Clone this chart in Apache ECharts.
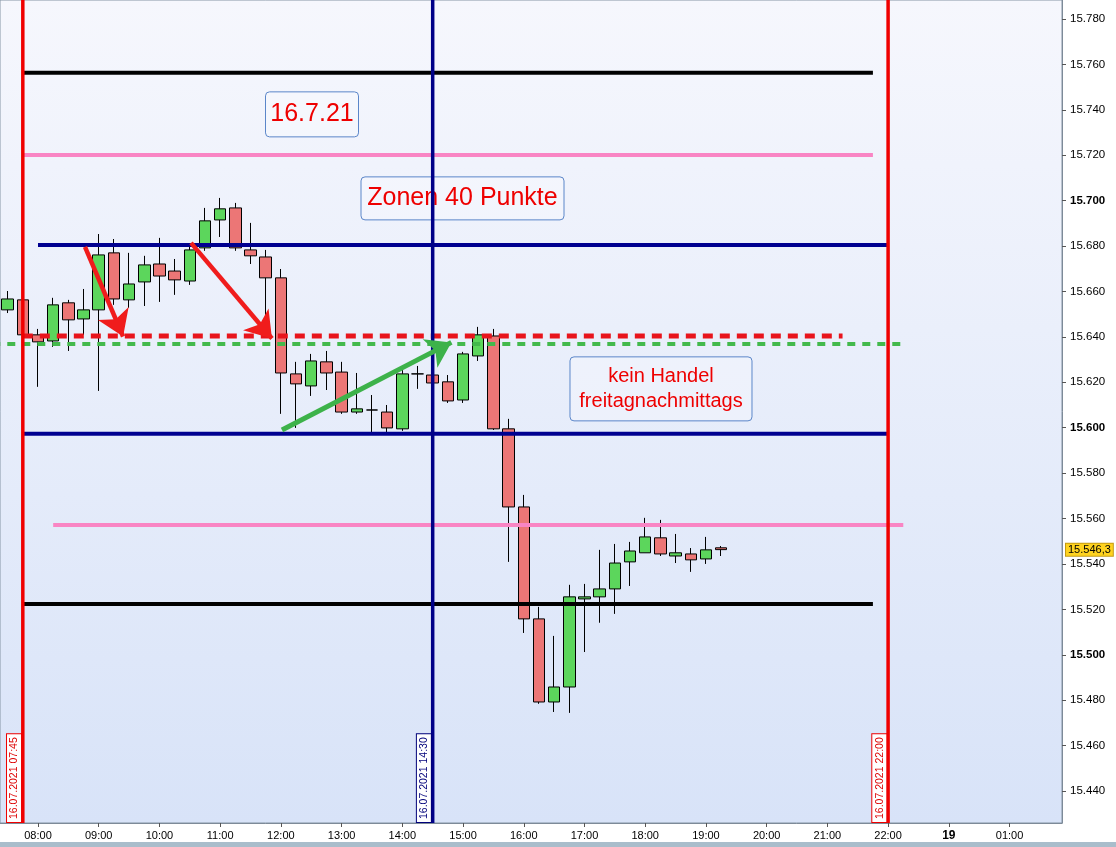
<!DOCTYPE html>
<html>
<head>
<meta charset="utf-8">
<script src="https://cdn.jsdelivr.net/npm/echarts@6/dist/echarts.min.js"></script>
<style>html,body{margin:0;padding:0;background:#fff}#c{width:1116px;height:847px}</style>
</head>
<body>
<div id="c"></div>
<script>
// ---------- data ----------
const candleTimes = ['07:30','07:45','08:00','08:15','08:30','08:45','09:00','09:15','09:30','09:45',
  '10:00','10:15','10:30','10:45','11:00','11:15','11:30','11:45','12:00','12:15','12:30','12:45',
  '13:00','13:15','13:30','13:45','14:00','14:15','14:30','14:45','15:00','15:15','15:30','15:45',
  '16:00','16:15','16:30','16:45','17:00','17:15','17:30','17:45','18:00','18:15','18:30','18:45',
  '19:00','19:15'];
const opens = [15651.9,15656.3,15640.9,15638.2,15655.0,15647.9,15651.9,15677.0,15656.3,15664.2,
  15672.1,15669.0,15664.6,15679.2,15691.5,15696.8,15678.3,15675.2,15666.0,15623.7,15618.4,15629.0,
  15624.5,15606.9,15607.8,15606.9,15599.5,15623.7,15623.2,15620.2,15612.2,15631.6,15640.4,15599.5,
  15565.1,15515.8,15479.2,15485.8,15524.6,15525.5,15529.0,15540.9,15544.9,15551.5,15543.5,15544.4,
  15542.2,15547.1];
const closes = [15656.7,15640.9,15637.8,15654.1,15647.5,15651.9,15676.1,15656.7,15663.3,15671.7,
  15666.8,15665.1,15678.3,15691.1,15696.4,15679.2,15675.7,15666.0,15624.1,15619.3,15629.4,15624.1,
  15606.9,15608.3,15607.8,15599.9,15623.7,15623.7,15619.7,15611.8,15632.5,15640.9,15599.5,15565.1,
  15515.8,15479.2,15485.8,15525.5,15525.5,15529.0,15540.4,15545.7,15551.9,15544.4,15544.9,15541.8,
  15546.2,15546.3];
const lows = [15650.5,15640.5,15618.0,15635.6,15633.8,15640.9,15616.2,15654.1,15652.8,15653.6,
  15655.4,15658.5,15662.9,15677.9,15684.0,15677.9,15672.1,15645.3,15606.1,15599.9,15614.0,15616.6,
  15606.1,15606.1,15598.1,15598.1,15598.6,15617.1,15619.7,15610.9,15610.9,15629.4,15599.0,15540.9,
  15509.6,15478.4,15474.8,15474.4,15501.2,15514.1,15518.0,15530.3,15544.9,15543.5,15540.4,15536.5,
  15540.0,15543.5];
const highs = [15660.2,15656.5,15643.5,15657.2,15656.3,15661.1,15685.3,15683.1,15677.0,15675.7,
  15683.6,15674.3,15680.5,15696.8,15701.2,15699.0,15690.2,15678.3,15669.9,15629.0,15632.5,15633.8,
  15629.0,15624.1,15614.4,15610.0,15625.4,15627.2,15623.2,15623.2,15633.4,15644.4,15643.5,15603.9,
  15570.4,15521.1,15508.3,15530.8,15531.2,15546.2,15548.8,15549.7,15560.3,15559.4,15553.2,15547.0,
  15551.9,15547.9];
const lastPrice = 15546.3;

const yTicks = [15440,15460,15480,15500,15520,15540,15560,15580,15600,15620,15640,15660,15680,15700,15720,15740,15760,15780];
const boldYTicks = [15500,15600,15700];
const xTickHours = [8,9,10,11,12,13,14,15,16,17,18,19,20,21,22,23,24];
const xTickLabels = ['08:00','09:00','10:00','11:00','12:00','13:00','14:00','15:00','16:00','17:00','18:00','19:00','20:00','21:00','22:00','19','01:00'];
const boldXTicks = ['19'];

// solid horizontal levels
const levelPrices = [15756.3, 15720.1, 15680.5, 15597.3, 15557.2, 15522.4];
const levelFrom   = ['07:45','07:45','08:00','07:45','08:15','07:45'];
const levelTo     = ['21:45','21:45','22:00','22:00','22:15','21:45'];
const levelKinds  = ['black','pink','blue','blue','pink','black'];
// dashed levels
const dashPrices = [15640.4, 15636.9];
const dashFrom   = ['07:45','07:00'];
const dashTo     = ['21:15','22:15'];
const dashKinds  = ['red','green'];
// vertical time markers
const markerTimes  = ['07:45','14:30','22:00'];
const markerLabels = ['16.07.2021 07:45','16.07.2021 14:30','16.07.2021 22:00'];
const markerKinds  = ['red','navy','red'];
// arrows (hours, points); "to" is the arrow tip
const arrowFromH = [8.774, 10.520, 12.018];
const arrowFromP = [15679.6, 15681.4, 15599.0];
const arrowToH   = [9.482, 11.986, 14.983];
const arrowToP   = [15635.1, 15635.1, 15640.0];
const arrowKinds = ['red','red','green'];
// text notes (centre in hours / points)
const noteTexts = ['16.7.21', 'Zonen 40 Punkte', 'kein Handel\nfreitagnachmittags'];
const noteH = [12.5125, 14.991, 18.26];
const noteP = [15738.0, 15701.0, 15617.1];

// ---------- styles ----------
const FONT = 'Arial, "Liberation Sans", sans-serif';
const COL = {black:'#000000', pink:'#f985c4', blue:'#000090', navy:'#000088', red:'#ee0a0a', green:'#3fb84a'};
const levelWidth = {black:4, pink:4, blue:4};
const noteSize = [[93,45,25],[203,43,25],[182,64,20]];

const toH = s => { const [h,m] = s.split(':').map(Number); return h + m/60; };
const fmtPts = v => { const s = Math.round(v).toString(); return s.slice(0, s.length-3) + '.' + s.slice(-3); };

const xMin = 7.3742, xMax = 24.864;
const yMin = 15425.9, yMax = 15788.37;

const candleData = candleTimes.map((t,i) => [toH(t), opens[i], closes[i], lows[i], highs[i]]);

const series = [];
series.push({
  type:'candlestick', name:'FDAX', data:candleData, barWidth:12, z:2,
  itemStyle:{color:'#5cd65c', color0:'#ec7676', borderColor:'#000', borderColor0:'#000', borderColorDoji:'#000', borderWidth:1}
});
levelPrices.forEach((p,i) => {
  series.push({type:'line', silent:true, symbol:'none', z:3, animation:false,
    data:[[toH(levelFrom[i]), p],[toH(levelTo[i]), p]],
    lineStyle:{color:COL[levelKinds[i]], width:levelWidth[levelKinds[i]], cap:'butt'}});
});
dashPrices.forEach((p,i) => {
  const red = dashKinds[i] === 'red';
  series.push({type:'line', silent:true, symbol:'none', z:4, animation:false,
    data:[[toH(dashFrom[i]), p],[toH(dashTo[i]), p]],
    lineStyle:{color: red ? '#e8141c' : '#43b94c', width: red ? 5 : 4, type: red ? [10,7] : [8,7], cap:'butt'}});
});
markerTimes.forEach((t,i) => {
  series.push({type:'line', silent:true, symbol:'none', z:5, animation:false,
    data:[[toH(t), yMin],[toH(t), yMax]],
    lineStyle:{color: markerKinds[i]==='navy' ? COL.navy : '#f00000', width:3.5}});
});
series.push({id:'arrowsRed', type:'lines', coordinateSystem:'cartesian2d', silent:true, z:8, data:[],
  symbol:['none','arrow'], symbolSize:[17,25], lineStyle:{color:'#f01c1c', width:4.5, opacity:1}});
series.push({id:'arrowsGreen', type:'lines', coordinateSystem:'cartesian2d', silent:true, z:8, data:[],
  symbol:['none','arrow'], symbolSize:[16,24], lineStyle:{color:'#3db24a', width:5, opacity:1}});

const chart = echarts.init(document.getElementById('c'), null, {renderer:'canvas'});
chart.setOption({
  animation:false,
  backgroundColor:'#ffffff',
  grid:{left:0, right:54, top:0, bottom:24, show:true, borderColor:'#8595a5', borderWidth:1,
    backgroundColor:new echarts.graphic.LinearGradient(0,0,0,1,[{offset:0,color:'#f6f7fd'},{offset:1,color:'#d8e3f8'}])},
  xAxis:{type:'value', min:xMin, max:xMax,
    splitLine:{show:false},
    axisLine:{show:true, onZero:false, lineStyle:{color:'#7d8a98', width:1}},
    axisTick:{show:true, length:4, customValues:xTickHours, lineStyle:{color:'#555'}},
    axisLabel:{customValues:xTickHours, margin:7,
      formatter: v => { const i = xTickHours.findIndex(h => Math.abs(h - v) < 1e-6); if (i < 0) return ''; const l = xTickLabels[i]; return boldXTicks.includes(l) ? '{b|' + l + '}' : '{n|' + l + '}'; },
      rich:{n:{fontSize:11, color:'#000', fontFamily:FONT}, b:{fontSize:12, fontWeight:'bold', color:'#000', fontFamily:FONT}}}
  },
  yAxis:{type:'value', position:'right', min:yMin, max:yMax,
    splitLine:{show:false},
    axisLine:{show:true, lineStyle:{color:'#7d8a98', width:1}},
    axisTick:{show:true, length:4, customValues:yTicks, lineStyle:{color:'#555'}},
    axisLabel:{customValues:yTicks, margin:8, align:'left',
      formatter: v => { const s = fmtPts(v); return boldYTicks.some(b => Math.abs(b - v) < 1e-6) ? '{b|' + s + '}' : '{n|' + s + '}'; },
      rich:{n:{fontSize:11.5, color:'#000', fontFamily:FONT}, b:{fontSize:11.5, fontWeight:'bold', color:'#000', fontFamily:FONT}}}
  },
  series: series
});

// ---------- annotations placed through the axes ----------
const px = (h, p) => chart.convertToPixel({gridIndex:0}, [h, p]);
const dp = (x, y) => chart.convertFromPixel({gridIndex:0}, [x, y]);
const redArrows = [], greenArrows = [];
arrowFromH.forEach((h,i) => {
  const head = arrowKinds[i] === 'red' ? 25 : 24;
  const a = px(h, arrowFromP[i]), b = px(arrowToH[i], arrowToP[i]);
  const dx = b[0]-a[0], dy = b[1]-a[1], L = Math.hypot(dx, dy);
  const c = [b[0] - dx/L*head/2, b[1] - dy/L*head/2];
  const item = {coords:[[h, arrowFromP[i]], dp(c[0], c[1])]};
  (arrowKinds[i] === 'red' ? redArrows : greenArrows).push(item);
});

const graphics = [];
noteTexts.forEach((t,i) => {
  const c = px(noteH[i], noteP[i]);
  const [w,h,fs] = noteSize[i];
  graphics.push({type:'group', x:c[0], y:c[1], z:20, children:[
    {type:'rect', shape:{x:-w/2, y:-h/2, width:w, height:h, r:4}, style:{fill:'rgba(255,255,255,0.25)', stroke:'#5b86c9', lineWidth:1}},
    {type:'text', style:{text:t, font: fs + 'px ' + FONT, fill:'#ee0000', align:'center', verticalAlign:'middle', lineHeight:fs+5}}
  ]});
});
const bottomY = px(xMin, yMin)[1];
markerTimes.forEach((t,i) => {
  const x = px(toH(t), yMin)[0];
  const navy = markerKinds[i] === 'navy';
  const col = navy ? '#00007a' : '#dd0000';
  graphics.push({type:'text', x:x-1.8, y:bottomY-1, rotation:Math.PI/2, z:20,
    style:{text:markerLabels[i], font:'10.5px ' + FONT, fill:col, backgroundColor:'#ffffff',
      borderColor: navy ? '#00007a' : '#ee0000', borderWidth:1, padding:[2,3,1,3], align:'left', verticalAlign:'bottom'}});
});
const lp = px(xMax, lastPrice);
graphics.push({type:'text', x:lp[0]+4, y:lp[1], z:20,
  style:{text:fmtPts(Math.floor(lastPrice)) + ',' + Math.round((lastPrice % 1) * 10), font:'11px ' + FONT, fill:'#000',
    backgroundColor:'#ffd31f', borderColor:'#c49a12', borderWidth:1, padding:[1,2,0,2], align:'left', verticalAlign:'middle'}});
graphics.push({type:'rect', shape:{x:0, y:842, width:1116, height:5}, style:{fill:'#a9bdcb'}, z:0});

chart.setOption({
  series:[{id:'arrowsRed', data:redArrows},{id:'arrowsGreen', data:greenArrows}],
  graphic: graphics
});
</script>
</body>
</html>
